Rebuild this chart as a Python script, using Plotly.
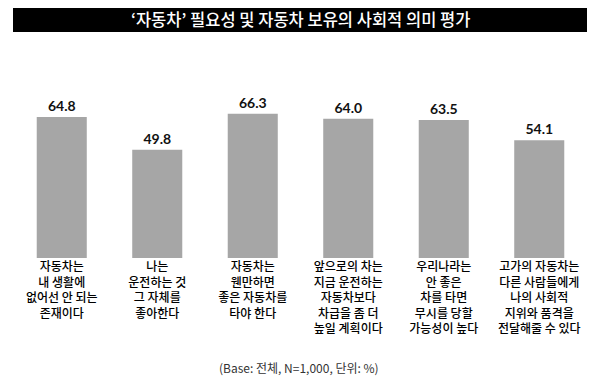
import plotly.graph_objects as go

title_text = "‘자동차’ 필요성 및 자동차 보유의 사회적 의미 평가"
categories = [
    "자동차는<br>내 생활에<br>없어선 안 되는<br>존재이다",
    "나는<br>운전하는 것<br>그 자체를<br>좋아한다",
    "자동차는<br>웬만하면<br>좋은 자동차를<br>타야 한다",
    "앞으로의 차는<br>지금 운전하는<br>자동차보다<br>차급을 좀 더<br>높일 계획이다",
    "우리나라는<br>안 좋은<br>차를 타면<br>무시를 당할<br>가능성이 높다",
    "고가의 자동차는<br>다른 사람들에게<br>나의 사회적<br>지위와 품격을<br>전달해줄 수 있다",
]
values = [64.8, 49.8, 66.3, 64.0, 63.5, 54.1]
value_labels = ["64.8", "49.8", "66.3", "64.0", "63.5", "54.1"]
footnote = "(Base: 전체, N=1,000, 단위: %)"

# page body has an 8px default margin; size the figure to fit the 600x384 window
OFF = 8
W, H = 600 - 2 * OFF, 384 - 2 * OFF
ml = 14 - OFF
mr = W - (587 - OFF)
mt = 84 - OFF
mb = H - (258 - OFF)
pw, ph = W - ml - mr, H - mt - mb

def px_x(x):
    return (x - OFF - ml) / pw

def px_y(y):
    return (H - mb - (y - OFF)) / ph

fig = go.Figure()
fig.add_trace(go.Bar(
    x=categories, y=values,
    marker=dict(color="#a6a6a6", line=dict(width=0)),
    text=value_labels, textposition="outside",
    textfont=dict(family="Lato, Noto Sans", size=14, color="#111111", weight="bold"),
    cliponaxis=False,
    hoverinfo="skip",
))

fig.update_layout(
    width=W, height=H,
    margin=dict(l=ml, r=mr, t=mt, b=mb, pad=0, autoexpand=False),
    paper_bgcolor="white", plot_bgcolor="white",
    bargap=0.476,
    showlegend=False,
    font=dict(family="Noto Sans CJK KR", color="#111111"),
    xaxis=dict(
        showgrid=False, showline=False, zeroline=False, ticks="",
        tickfont=dict(family="Noto Sans CJK KR", size=12, color="#000000", weight=500),
        tickangle=0, automargin=False,
    ),
    yaxis=dict(range=[0, 80], visible=False, showgrid=False, automargin=False),
    shapes=[dict(
        type="rect", xref="paper", yref="paper",
        x0=px_x(13), x1=px_x(587), y0=px_y(32), y1=px_y(5),
        fillcolor="black", line=dict(width=0), layer="below",
    )],
    annotations=[
        dict(text=title_text, xref="paper", yref="paper",
             x=px_x(300), y=px_y(19), showarrow=False,
             xanchor="center", yanchor="middle",
             font=dict(family="Noto Sans CJK KR", size=16.5, color="white", weight=500)),
        dict(text=footnote, xref="paper", yref="paper",
             x=px_x(299), y=px_y(367), showarrow=False,
             xanchor="center", yanchor="middle",
             font=dict(family="Noto Sans CJK KR", size=12, color="#333333")),
    ],
)

fig.write_html("out.html")
